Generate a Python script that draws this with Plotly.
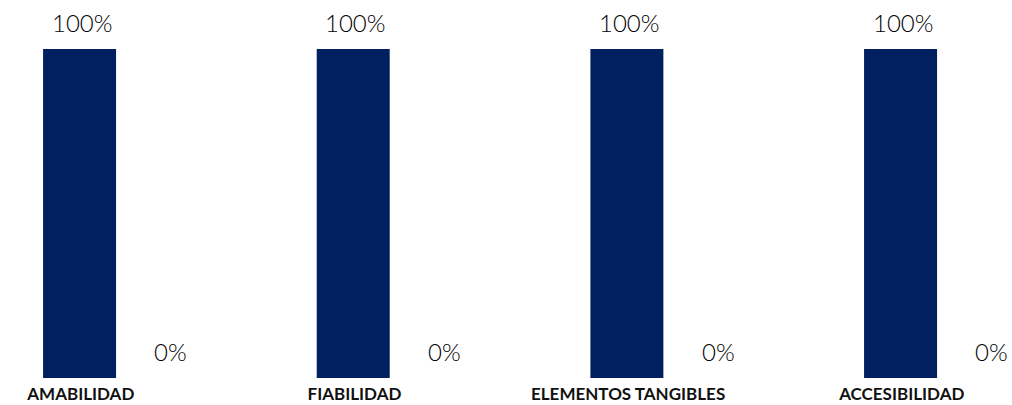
import plotly.graph_objects as go

categories = ["AMABILIDAD", "FIABILIDAD", "ELEMENTOS TANGIBLES", "ACCESIBILIDAD"]
series_a = [1.0, 1.0, 1.0, 1.0]
series_b = [0.0, 0.0, 0.0, 0.0]
labels_a = ["100%", "100%", "100%", "100%"]
labels_b = ["0%", "0%", "0%", "0%"]

BAR = "#002060"
TXT = "#000000"
NUMFONT = dict(family="Lato", size=24, color=TXT, weight=300)

fig = go.Figure()
fig.add_trace(go.Bar(x=categories, y=series_a, marker=dict(color=BAR, line=dict(width=0)),
                     hoverinfo="skip"))
fig.add_trace(go.Bar(x=categories, y=series_b, marker=dict(color=BAR, line=dict(width=0)),
                     hoverinfo="skip"))

for cat, v, t in zip(categories, series_a, labels_a):
    fig.add_annotation(x=cat, y=v, text=t, showarrow=False, xshift=-43, yshift=27,
                       yanchor="middle", xanchor="center", font=NUMFONT)
for cat, v, t in zip(categories, series_b, labels_b):
    fig.add_annotation(x=cat, y=v, text=t, showarrow=False, xshift=46, yshift=27,
                       yanchor="middle", xanchor="center", font=NUMFONT)

fig.update_layout(
    width=1012, height=405,
    margin=dict(l=0, r=0, t=49, b=27),
    paper_bgcolor="white", plot_bgcolor="white",
    barmode="group", bargap=0.339, bargroupgap=0.193,
    showlegend=False,
    xaxis=dict(range=[-0.456, 3.242], showgrid=False, zeroline=False, showline=False,
               ticks="", tickfont=dict(family="Lato", size=17, color="#111111", weight="bold"),
               ticklabelshift=-44, ticklabelstandoff=4),
    yaxis=dict(range=[0, 1], visible=False, showgrid=False, zeroline=False),
)
fig.write_html("out.html", config={"displayModeBar": False},
               post_script="document.body.style.margin='0';document.body.style.overflow='hidden';")
